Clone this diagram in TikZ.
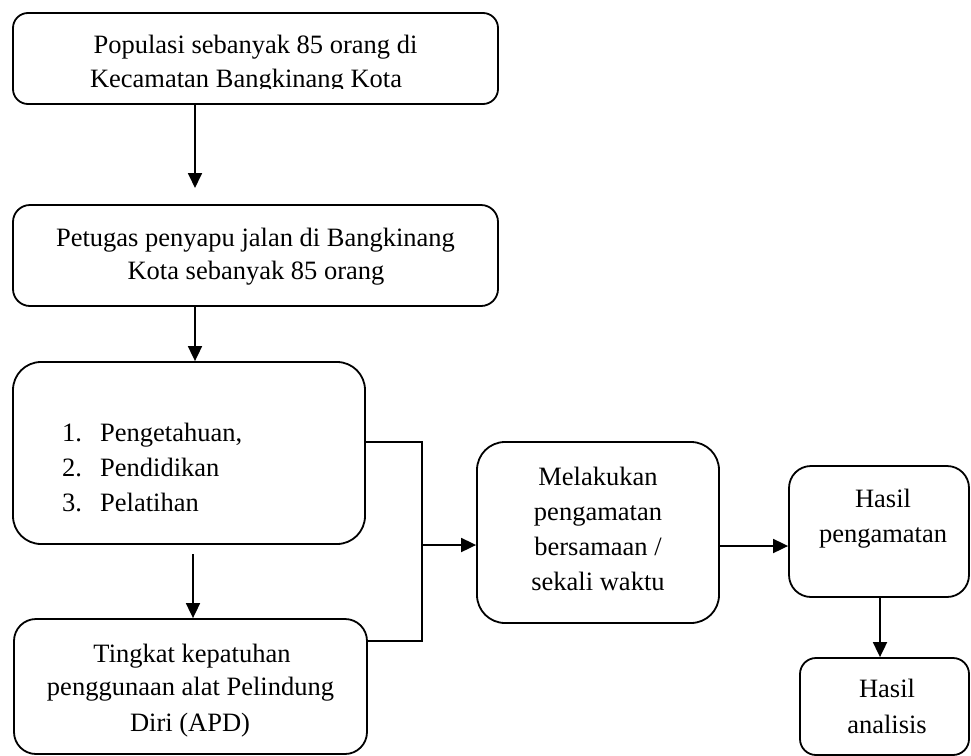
\documentclass[tikz,border=0pt]{standalone}
\usepackage{fontspec}
\setmainfont{Liberation Serif}
\usetikzlibrary{arrows.meta}
\begin{document}
\begin{tikzpicture}[x=1pt,y=-1pt,
  box/.style={draw, line width=1.8pt, rounded corners=#1, inner sep=0pt},
  box/.default=16pt,
  txt/.style={font=\fontsize{26.5}{34}\selectfont, inner sep=0pt, anchor=base},
  ltxt/.style={txt, anchor=base west},
  arr/.style={line width=1.8pt, -{Triangle[length=15pt,width=14pt]}},
  conn/.style={line width=1.8pt}]
\useasboundingbox (0,0) rectangle (971,755);

% boxes
\node[box=15pt, minimum width=485pt, minimum height=91pt] (b1) at (255.5,58.5) {};
\node[box=17pt, minimum width=485pt, minimum height=101pt] (b2) at (255.5,255.5) {};
\node[box=28pt, minimum width=352pt, minimum height=182pt] (b3) at (189,453) {};
\node[box=22pt, minimum width=353pt, minimum height=135pt] (b4) at (190.5,686.5) {};
\node[box=28pt, minimum width=242pt, minimum height=181pt] (b5) at (598,532.5) {};
\node[box=22pt, minimum width=180pt, minimum height=131pt] (b6) at (879,531.5) {};
\node[box=16pt, minimum width=169pt, minimum height=97pt] (b7) at (884.5,706.5) {};

% texts
\begin{scope}
\clip (13,13) rectangle (498,88);
\node[txt] (t1a) at (255.5,53) {Populasi sebanyak 85 orang di};
\node[txt] (t1b) at (246,87) {Kecamatan Bangkinang Kota};
\end{scope}
\node[txt] (t2a) at (255.5,246) {Petugas penyapu jalan di Bangkinang};
\node[txt] (t2b) at (256,279) {Kota sebanyak 85 orang};

\node[ltxt] (n1) at (62,441) {1.};
\node[ltxt] (t3a) at (100,441) {Pengetahuan,};
\node[ltxt] (n2) at (62,476) {2.};
\node[ltxt] (t3b) at (100,476) {Pendidikan};
\node[ltxt] (n3) at (62,511) {3.};
\node[ltxt] (t3c) at (100,511) {Pelatihan};

\node[txt] (t4a) at (192,662) {Tingkat kepatuhan};
\node[txt] (t4b) at (190.5,695) {penggunaan alat Pelindung};
\node[txt] (t4c) at (190,731) {Diri (APD)};

\node[txt] (t5a) at (598,485) {Melakukan};
\node[txt] (t5b) at (598,520) {pengamatan};
\node[txt] (t5c) at (598,555) {bersamaan /};
\node[txt] (t5d) at (598,590) {sekali waktu};

\node[txt] (t6a) at (883,507) {Hasil};
\node[txt] (t6b) at (883,542) {pengamatan};

\node[txt] (t7a) at (887,697) {Hasil};
\node[txt] (t7b) at (887,733) {analisis};

% connectors
\coordinate (a1e) at (195,188);
\draw[arr] (b1.south -| a1e) -- (a1e);
\draw[arr] (b2.south -| a1e) -- (b3.north -| a1e);
\coordinate (a3) at (193,554);
\draw[arr] (a3) -- (b4.north -| a3);
\coordinate (c1) at (422,442);
\coordinate (c2) at (422,641);
\coordinate (j) at (422,545);
\draw[conn] (b3.east |- c1) -- (c1) -- (c2) -- (b4.east |- c2);
\draw[arr] (j) -- (b5.west |- j);
\coordinate (j2) at (700,546);
\draw[arr] (b5.east |- j2) -- (b6.west |- j2);
\coordinate (a6) at (880,600);
\draw[arr] (b6.south -| a6) -- (b7.north -| a6);
\end{tikzpicture}
\end{document}
